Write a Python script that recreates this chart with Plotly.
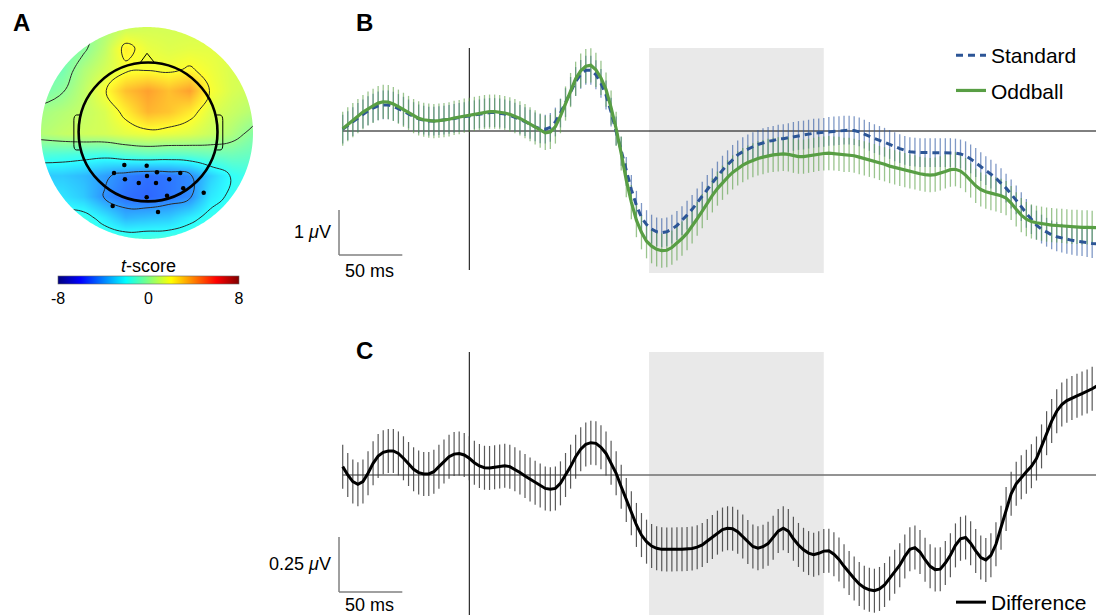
import numpy as np
import plotly.graph_objects as go

# ---------------- data ----------------
TIMES_MS = list(range(-100, 500, 4))  # sampling grid, 250 Hz

STANDARD_UV = [
    0.04, 0.12, 0.21, 0.30, 0.38, 0.45, 0.51, 0.56, 0.58, 0.58,
    0.55, 0.50, 0.44, 0.38, 0.32, 0.27, 0.24, 0.22, 0.22, 0.23,
    0.24, 0.26, 0.28, 0.30, 0.32, 0.34, 0.36, 0.38, 0.40, 0.41,
    0.41, 0.40, 0.38, 0.35, 0.31, 0.26, 0.21, 0.15, 0.09, 0.05,
    0.04, 0.08, 0.20, 0.40, 0.63, 0.88, 1.10, 1.26, 1.35, 1.35,
    1.25, 1.06, 0.80, 0.42, 0.00, -0.45, -0.90, -1.30, -1.65, -1.92,
    -2.08, -2.18, -2.24, -2.26, -2.24, -2.18, -2.10, -1.99, -1.87, -1.74,
    -1.60, -1.45, -1.30, -1.15, -1.00, -0.87, -0.75, -0.63, -0.53, -0.46,
    -0.40, -0.35, -0.30, -0.26, -0.23, -0.21, -0.18, -0.17, -0.15, -0.12,
    -0.10, -0.09, -0.07, -0.05, -0.04, -0.03, -0.01, 0.00, 0.01, 0.02,
    0.02, 0.01, -0.02, -0.07, -0.12, -0.17, -0.21, -0.25, -0.30, -0.35,
    -0.39, -0.43, -0.46, -0.47, -0.48, -0.48, -0.48, -0.48, -0.48, -0.48,
    -0.48, -0.49, -0.51, -0.55, -0.62, -0.70, -0.79, -0.88, -0.96, -1.05,
    -1.15, -1.27, -1.40, -1.53, -1.68, -1.83, -1.97, -2.09, -2.18, -2.25,
    -2.31, -2.35, -2.38, -2.41, -2.43, -2.45, -2.46, -2.48, -2.50, -2.51,
]

ODDBALL_UV = [
    0.05, 0.15, 0.24, 0.33, 0.42, 0.50, 0.56, 0.62, 0.65, 0.64,
    0.60, 0.54, 0.47, 0.40, 0.33, 0.28, 0.25, 0.23, 0.22, 0.23,
    0.24, 0.26, 0.29, 0.31, 0.34, 0.36, 0.38, 0.40, 0.42, 0.43,
    0.43, 0.42, 0.40, 0.37, 0.33, 0.28, 0.22, 0.15, 0.08, 0.01,
    -0.04, -0.02, 0.10, 0.33, 0.61, 0.91, 1.16, 1.34, 1.44, 1.46,
    1.36, 1.18, 0.92, 0.52, 0.05, -0.50, -1.09, -1.58, -1.98, -2.25,
    -2.45, -2.56, -2.63, -2.66, -2.65, -2.59, -2.50, -2.39, -2.27, -2.12,
    -1.95, -1.78, -1.60, -1.43, -1.28, -1.15, -1.03, -0.92, -0.83, -0.76,
    -0.70, -0.65, -0.61, -0.58, -0.55, -0.53, -0.52, -0.51, -0.52, -0.55,
    -0.57, -0.57, -0.55, -0.53, -0.51, -0.50, -0.49, -0.50, -0.51, -0.53,
    -0.53, -0.55, -0.58, -0.61, -0.64, -0.67, -0.71, -0.74, -0.78, -0.81,
    -0.84, -0.87, -0.90, -0.92, -0.95, -0.97, -0.98, -0.97, -0.94, -0.90,
    -0.86, -0.85, -0.89, -0.98, -1.10, -1.22, -1.30, -1.35, -1.38, -1.41,
    -1.44, -1.49, -1.60, -1.74, -1.87, -1.96, -2.01, -2.04, -2.06, -2.08,
    -2.09, -2.10, -2.11, -2.12, -2.13, -2.13, -2.14, -2.14, -2.15, -2.15,
]

DIFFERENCE_UV = [
    0.038, 0.000, -0.030, -0.042, -0.030, 0.008, 0.053, 0.086, 0.103, 0.109,
    0.109, 0.098, 0.076, 0.050, 0.026, 0.011, 0.005, 0.005, 0.015, 0.038,
    0.061, 0.083, 0.095, 0.098, 0.091, 0.076, 0.056, 0.041, 0.033, 0.032,
    0.035, 0.039, 0.042, 0.038, 0.026, 0.011, -0.005, -0.020, -0.035, -0.048,
    -0.061, -0.065, -0.061, -0.038, 0.000, 0.038, 0.083, 0.117, 0.139, 0.147,
    0.144, 0.126, 0.098, 0.056, 0.008, -0.053, -0.114, -0.174, -0.227, -0.273,
    -0.303, -0.323, -0.333, -0.338, -0.339, -0.339, -0.338, -0.337, -0.336, -0.334,
    -0.328, -0.318, -0.300, -0.282, -0.262, -0.248, -0.242, -0.244, -0.258, -0.280,
    -0.305, -0.325, -0.333, -0.326, -0.312, -0.285, -0.255, -0.242, -0.255, -0.290,
    -0.318, -0.340, -0.355, -0.362, -0.356, -0.346, -0.344, -0.360, -0.384, -0.415,
    -0.445, -0.470, -0.495, -0.512, -0.522, -0.526, -0.518, -0.500, -0.470, -0.440,
    -0.410, -0.370, -0.338, -0.330, -0.350, -0.385, -0.415, -0.430, -0.428, -0.400,
    -0.365, -0.320, -0.290, -0.284, -0.310, -0.345, -0.375, -0.386, -0.365, -0.315,
    -0.240, -0.155, -0.085, -0.040, -0.010, 0.015, 0.040, 0.075, 0.130, 0.190,
    0.245, 0.290, 0.320, 0.338, 0.350, 0.360, 0.370, 0.380, 0.392, 0.405,
]

STANDARD_SE = 0.32
ODDBALL_SE = 0.38
DIFFERENCE_SE = 0.10

WINDOW_MS = [142, 280]          # shaded analysis window
SCALE_B = [50, 1.0]             # 50 ms, 1 uV
SCALE_C = [50, 0.25]            # 50 ms, 0.25 uV

# Topography (t-scores) on a grid, rows listed from top (front) to bottom (back)
GRID_U = [-1.0, -0.8, -0.6, -0.4, -0.2, 0.0, 0.2, 0.4, 0.6, 0.8, 1.0]
GRID_W_TOP_DOWN = [1.0, 0.8, 0.6, 0.4, 0.2, 0.0, -0.2, -0.4, -0.6, -0.8, -1.0]
T_ROWS_TOP_DOWN = [
    [-0.6, -0.6, -0.4, 0.4, 1.0, 1.2, 1.2, 1.2, 1.1, 1.0, 1.0],
    [-0.8, -0.7, -0.2, 0.8, 2.3, 1.6, 1.4, 1.5, 1.5, 1.4, 1.3],
    [-0.8, -0.6, 0.5, 1.2, 1.8, 1.9, 1.8, 2.1, 1.7, 1.3, 1.2],
    [-0.6, -0.1, 0.8, 1.9, 3.2, 3.8, 3.2, 3.8, 1.9, 1.3, 1.0],
    [0.3, 0.6, 0.9, 1.3, 2.3, 3.4, 3.1, 2.4, 1.4, 1.0, 0.6],
    [0.6, 0.9, 1.1, 1.2, 1.5, 1.7, 1.6, 1.4, 1.0, 0.5, -0.3],
    [-1.3, -1.4, -1.5, -1.6, -1.2, -1.0, -1.1, -1.0, -0.8, -0.7, -0.9],
    [-3.0, -3.0, -3.3, -3.8, -4.4, -4.7, -4.6, -4.2, -2.9, -1.9, -1.5],
    [-2.2, -2.5, -3.0, -4.1, -4.7, -4.9, -4.6, -4.2, -2.4, -1.8, -1.5],
    [-1.6, -1.6, -1.6, -2.4, -3.4, -3.2, -3.0, -2.3, -1.7, -1.5, -1.5],
    [-1.3, -1.3, -1.3, -1.3, -1.3, -1.3, -1.3, -1.3, -1.3, -1.3, -1.3],
]

# significant electrodes (normalised head coordinates)
ELEC_U = [-0.214, -0.003, -0.311, 0.094, 0.314, -0.208, 0.000, 0.210,
          -0.078, 0.085, 0.342, -0.003, 0.189, 0.535, -0.324, 0.104]
ELEC_W = [-0.302, -0.308, -0.377, -0.371, -0.377, -0.437, -0.406, -0.437,
          -0.472, -0.472, -0.522, -0.607, -0.592, -0.563, -0.689, -0.745]

# ---------------- geometry / style ----------------
W, H = 1096, 615
FONT = "Arial, Liberation Sans, Helvetica, sans-serif"

def px_x(px):
    return px / W

def px_y(py):
    return 1 - py / H

# time axis mapping: 1.266 px per ms, t=0 at x=469.3 px
PX_PER_MS = 1.266
X0_PX = 469.3
T_LEFT = -106.0
T_RIGHT = (W - X0_PX) / PX_PER_MS
XDOM = [px_x(X0_PX + T_LEFT * PX_PER_MS), 1.0]

# panel B: zero at 131 px, 45 px per uV, area 45..275 px
B_ZERO, B_SCALE, B_TOP, B_BOT = 131, 45, 45, 275
# panel C: zero at 475 px, 220 px per uV, area 345..615 px
C_ZERO, C_SCALE, C_TOP, C_BOT = 475, 220, 345, 615

def vB(py):
    return (B_ZERO - py) / B_SCALE

def vC(py):
    return (C_ZERO - py) / C_SCALE

# panel A: head map centre (147,133) px, radius 106 px
A_CX, A_CY, A_R = 147, 133, 106
A_PAD = 1.13

JET = [[0.0, "#00007f"], [0.125, "#0000ff"], [0.25, "#007fff"], [0.375, "#00ffff"],
       [0.5, "#7fff7f"], [0.625, "#ffff00"], [0.75, "#ff7f00"], [0.875, "#ff0000"],
       [1.0, "#7f0000"]]

BLUE = "#2c5596"
GREEN = "#589e44"

fig = go.Figure()

# ---------------- panel A ----------------
grid_w = GRID_W_TOP_DOWN[::-1]
z_rows = T_ROWS_TOP_DOWN[::-1]

fig.add_trace(go.Heatmap(
    x=GRID_U, y=grid_w, z=z_rows, zsmooth="best", colorscale=JET, zmin=-8, zmax=8,
    opacity=0.82, xaxis="x3", yaxis="y3", hoverinfo="skip", showlegend=False,
    colorbar=dict(
        orientation="h", x=px_x(148.5), xanchor="center", y=px_y(276), yanchor="top",
        len=181, lenmode="pixels", thickness=8, xpad=0, ypad=0,
        tickvals=[-8, 0, 8], ticktext=["-8", "0", "8"], ticks="",
        tickfont=dict(family=FONT, size=16, color="#000"),
        outlinewidth=0.6, outlinecolor="#666",
    ),
))
fig.add_trace(go.Contour(
    x=GRID_U, y=grid_w, z=z_rows, xaxis="x3", yaxis="y3", showscale=False, showlegend=False,
    contours=dict(start=-6, end=6, size=2, coloring="none"),
    line=dict(color="#2a2a2a", width=1, smoothing=1.3), hoverinfo="skip",
))
fig.add_trace(go.Scatter(
    x=ELEC_U, y=ELEC_W, mode="markers", xaxis="x3", yaxis="y3",
    marker=dict(color="black", size=4.5), showlegend=False, hoverinfo="skip",
))

# ---------------- panel B ----------------
fig.add_trace(go.Scatter(
    x=TIMES_MS, y=STANDARD_UV, mode="markers", marker=dict(size=1, color="rgba(0,0,0,0)"),
    error_y=dict(type="constant", value=STANDARD_SE, width=0, thickness=1.3, color="rgba(44,85,160,0.6)"),
    showlegend=False, hoverinfo="skip", xaxis="x", yaxis="y",
))
fig.add_trace(go.Scatter(
    x=TIMES_MS, y=ODDBALL_UV, mode="markers", marker=dict(size=1, color="rgba(0,0,0,0)"),
    error_y=dict(type="constant", value=ODDBALL_SE, width=0, thickness=1.3, color="rgba(88,158,68,0.6)"),
    showlegend=False, hoverinfo="skip", xaxis="x", yaxis="y",
))
fig.add_trace(go.Scatter(
    x=TIMES_MS, y=STANDARD_UV, mode="lines", name="Standard",
    line=dict(color=BLUE, width=3, dash="7px,5px"), xaxis="x", yaxis="y",
    legend="legend", legendgroup="std",
))
fig.add_trace(go.Scatter(
    x=TIMES_MS, y=ODDBALL_UV, mode="lines", name="Oddball",
    line=dict(color=GREEN, width=3.2), xaxis="x", yaxis="y",
    legend="legend", legendgroup="odd",
))

# ---------------- panel C ----------------
fig.add_trace(go.Scatter(
    x=TIMES_MS, y=DIFFERENCE_UV, mode="markers", marker=dict(size=1, color="rgba(0,0,0,0)"),
    error_y=dict(type="constant", value=DIFFERENCE_SE, width=0, thickness=1.2, color="rgba(60,60,60,0.85)"),
    showlegend=False, hoverinfo="skip", xaxis="x2", yaxis="y2",
))
fig.add_trace(go.Scatter(
    x=TIMES_MS, y=DIFFERENCE_UV, mode="lines", name="Difference",
    line=dict(color="black", width=3), xaxis="x2", yaxis="y2",
    legend="legend2",
))

# ---------------- shapes ----------------
shapes = []
t_end = T_RIGHT
t_scale = (339 - X0_PX) / PX_PER_MS  # scale-bar x position (ms)

# B
shapes += [
    dict(type="rect", xref="x", yref="y", x0=WINDOW_MS[0], x1=WINDOW_MS[1], y0=vB(273), y1=vB(48),
         fillcolor="#e9e9e9", line=dict(width=0), layer="below"),
    dict(type="line", xref="x", yref="y", x0=TIMES_MS[0], x1=t_end, y0=0, y1=0,
         line=dict(color="black", width=1), layer="below"),
    dict(type="line", xref="x", yref="y", x0=0, x1=0, y0=vB(270), y1=vB(48),
         line=dict(color="black", width=1), layer="below"),
    dict(type="line", xref="x", yref="y", x0=t_scale, x1=t_scale, y0=vB(255), y1=vB(255) + SCALE_B[1],
         line=dict(color="#808080", width=1.5)),
    dict(type="line", xref="x", yref="y", x0=t_scale, x1=t_scale + SCALE_B[0], y0=vB(255), y1=vB(255),
         line=dict(color="#808080", width=1.5)),
]
# C
shapes += [
    dict(type="rect", xref="x2", yref="y2", x0=WINDOW_MS[0], x1=WINDOW_MS[1], y0=vC(C_BOT), y1=vC(352),
         fillcolor="#e9e9e9", line=dict(width=0), layer="below"),
    dict(type="line", xref="x2", yref="y2", x0=TIMES_MS[0], x1=t_end, y0=0, y1=0,
         line=dict(color="#6f6f6f", width=1.3), layer="below"),
    dict(type="line", xref="x2", yref="y2", x0=0, x1=0, y0=vC(C_BOT), y1=vC(352),
         line=dict(color="black", width=1), layer="below"),
    dict(type="line", xref="x2", yref="y2", x0=t_scale, x1=t_scale, y0=vC(592), y1=vC(592) + SCALE_C[1],
         line=dict(color="#808080", width=1.5)),
    dict(type="line", xref="x2", yref="y2", x0=t_scale, x1=t_scale + SCALE_C[0], y0=vC(592), y1=vC(592),
         line=dict(color="#808080", width=1.5)),
]

# A: circular mask, head outline, nose, ears
theta = np.linspace(0, 2 * np.pi, 361)
circ = " ".join(f"L{np.cos(a):.4f},{np.sin(a):.4f}" for a in theta[1:])
mask_path = f"M-1.8,-1.8 L-1.8,1.8 L1.8,1.8 L1.8,-1.8 Z M1,0 {circ} Z"
shapes.append(dict(type="path", xref="x3", yref="y3", path=mask_path,
                   fillcolor="white", line=dict(width=0), layer="above"))
hc, hr = 0.01, 0.655
shapes.append(dict(type="circle", xref="x3", yref="y3", x0=hc - hr, x1=hc + hr, y0=hc - hr, y1=hc + hr,
                   line=dict(color="black", width=2.6), layer="above"))
shapes.append(dict(type="path", xref="x3", yref="y3",
                   path="M-0.07,0.655 L0.0,0.752 L0.078,0.655",
                   line=dict(color="black", width=1), layer="above"))
shapes.append(dict(type="path", xref="x3", yref="y3",
                   path="M-0.632,0.17 L-0.665,0.17 Q-0.69,0.165 -0.69,0.12 L-0.69,-0.11 Q-0.69,-0.16 -0.665,-0.16 L-0.635,-0.16",
                   line=dict(color="black", width=1), layer="above"))
shapes.append(dict(type="path", xref="x3", yref="y3",
                   path="M0.652,0.17 L0.69,0.17 Q0.715,0.165 0.715,0.12 L0.715,-0.11 Q0.715,-0.16 0.69,-0.16 L0.655,-0.16",
                   line=dict(color="black", width=1), layer="above"))

# ---------------- annotations ----------------
def txt(text, x, y, size, xanchor="center", bold=False):
    return dict(text=f"<b>{text}</b>" if bold else text, x=px_x(x), y=px_y(y), xref="paper", yref="paper",
                showarrow=False, xanchor=xanchor, yanchor="middle",
                font=dict(family=FONT, size=size, color="black"))

annotations = [
    txt("A", 21, 23, 24, bold=True),
    txt("B", 364, 23, 24, bold=True),
    txt("C", 364, 350, 24, bold=True),
    txt("<i>t</i>-score", 148.5, 266, 18),
    txt("1 <i>μ</i>V", 333, 232, 18, xanchor="right"),
    txt("50 ms", 369.5, 271, 18),
    txt("0.25 <i>μ</i>V", 333, 564, 18, xanchor="right"),
    txt("50 ms", 369.5, 605, 18),
]

hidden = dict(visible=False, showgrid=False, zeroline=False, fixedrange=True)
a_half = A_R * A_PAD

fig.update_layout(
    width=W, height=H, autosize=False,
    margin=dict(l=0, r=0, t=0, b=0, pad=0, autoexpand=False),
    paper_bgcolor="white", plot_bgcolor="rgba(0,0,0,0)",
    font=dict(family=FONT, color="black"),
    xaxis=dict(domain=XDOM, range=[T_LEFT, T_RIGHT], **hidden),
    yaxis=dict(domain=[px_y(B_BOT), px_y(B_TOP)], range=[vB(B_BOT), vB(B_TOP)], **hidden),
    xaxis2=dict(domain=XDOM, range=[T_LEFT, T_RIGHT], **hidden),
    yaxis2=dict(domain=[0, px_y(C_TOP)], range=[vC(C_BOT), vC(C_TOP)], **hidden),
    xaxis3=dict(domain=[px_x(A_CX - a_half), px_x(A_CX + a_half)], range=[-A_PAD, A_PAD], **hidden),
    yaxis3=dict(domain=[px_y(A_CY + a_half), px_y(A_CY - a_half)], range=[-A_PAD, A_PAD], **hidden),
    shapes=shapes,
    annotations=annotations,
    legend=dict(x=px_x(951), y=px_y(35), xanchor="left", yanchor="top",
                font=dict(family=FONT, size=21, color="black"), bgcolor="rgba(0,0,0,0)",
                traceorder="grouped", tracegroupgap=5, borderwidth=0),
    legend2=dict(x=px_x(951), y=px_y(582), xanchor="left", yanchor="top",
                 font=dict(family=FONT, size=21, color="black"), bgcolor="rgba(0,0,0,0)",
                 borderwidth=0),
    showlegend=True,
)

fig.write_html("out.html", config={"displayModeBar": False, "staticPlot": True},
               post_script="document.body.style.margin='0';document.body.style.overflow='hidden';")
